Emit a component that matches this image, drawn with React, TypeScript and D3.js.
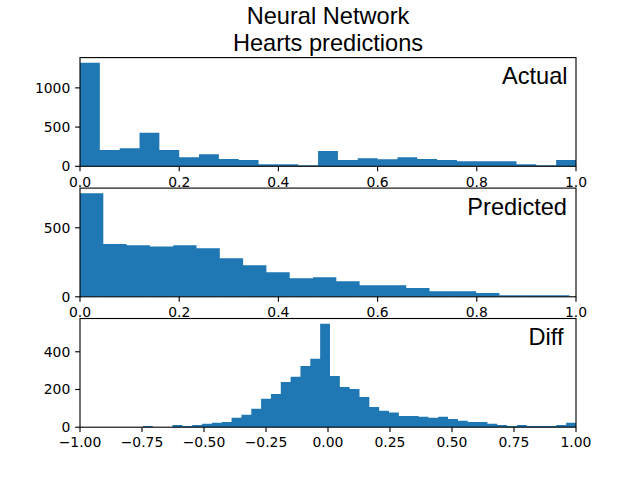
import React from "react";
import * as d3 from "d3";

// ---------- data ----------
const titleLines = ["Neural Network", "Hearts predictions"];

// Actual: 25 bins of width 0.04 starting at 0
const actualBinStart = 0;
const actualBinWidth = 0.04;
const actualCounts = [
  1320, 209, 230, 427, 209, 115, 154, 94, 81, 26, 26, 13, 196, 81, 102, 90,
  115, 94, 81, 64, 64, 64, 26, 13, 81,
];

// Predicted: 22 bins of width ~0.047 starting at 0 (last bin clipped at 1.0)
const predictedBinStart = 0;
const predictedBinWidth = 0.04698;
const predictedCounts = [
  750, 382, 373, 365, 373, 351, 279, 228, 178, 135, 142, 113, 84, 84, 63, 41,
  41, 27, 12, 12, 12, 3,
];

// Diff: 50 bins of width ~0.0397 starting at -0.984
const diffBinStart = -0.984;
const diffBinWidth = 0.03968;
const diffCounts = [
  0, 0, 0, 0, 0, 0, 7, 0, 0, 12, 7, 12, 18, 23, 28, 50, 66, 98, 151, 176, 240,
  267, 325, 363, 549, 272, 213, 203, 160, 107, 87, 78, 60, 60, 55, 50, 55, 44,
  34, 28, 28, 18, 12, 7, 12, 7, 7, 7, 12, 23,
];

const panelLabels = ["Actual", "Predicted", "Diff"];
const unitTicks = [0, 0.2, 0.4, 0.6, 0.8, 1.0];
const diffTicks = [-1, -0.75, -0.5, -0.25, 0, 0.25, 0.5, 0.75, 1.0];
const actualYTicks = [0, 500, 1000];
const predictedYTicks = [0, 500];
const diffYTicks = [0, 200, 400];

// ---------- layout ----------
const W = 640;
const H = 480;
const LEFT = 80;
const RIGHT = 576;
const AX_H = 108.7;
const TOPS = [57.6, 188.1, 318.5];
const BLUE = "#1f77b4";
const TICK_LEN = 4.86;
const LW = 1.11;
const TICK_FONT = "DejaVu Sans, sans-serif";
const TICK_SIZE = 13.9;
const LABEL_FONT = "Liberation Sans, Arial, Helvetica, sans-serif";
const LABEL_SIZE = 23.6;

type PanelProps = {
  idx: number;
  counts: number[];
  binStart: number;
  binWidth: number;
  xDomain: [number, number];
  xTicks: number[];
  xFmt: (v: number) => string;
  yTicks: number[];
  label: string;
  labelRight: number;
};

const minus = (s: string) => s.replace("-", "\u2212");

function Panel(p: PanelProps) {
  const top = TOPS[p.idx];
  const bottom = top + AX_H;
  const x = d3.scaleLinear().domain(p.xDomain).range([LEFT, RIGHT]);
  const maxC = d3.max(p.counts) || 1;
  const y = d3.scaleLinear().domain([0, maxC * 1.05]).range([bottom, top]);
  const clipId = `clip${p.idx}`;
  const path = d3.path();
  p.counts.forEach((c, i) => {
    if (c <= 0) return;
    const x0 = x(p.binStart + i * p.binWidth);
    const x1 = x(p.binStart + (i + 1) * p.binWidth);
    path.rect(x0, y(c), x1 - x0, y(0) - y(c));
  });
  return (
    <g>
      <defs>
        <clipPath id={clipId}>
          <rect x={LEFT} y={top} width={RIGHT - LEFT} height={AX_H} />
        </clipPath>
      </defs>
      <g clipPath={`url(#${clipId})`}>
        <path d={path.toString()} fill={BLUE} />
      </g>
      <rect
        x={LEFT}
        y={top}
        width={RIGHT - LEFT}
        height={AX_H}
        fill="none"
        stroke="#000"
        strokeWidth={LW}
      />
      {p.xTicks.map((t) => (
        <g key={"x" + t}>
          <line
            x1={x(t)}
            x2={x(t)}
            y1={bottom}
            y2={bottom + TICK_LEN}
            stroke="#000"
            strokeWidth={LW}
          />
          <text
            x={x(t)}
            y={bottom + 20.2}
            textAnchor="middle"
            fontFamily={TICK_FONT}
            fontSize={TICK_SIZE}
            fill="#000"
          >
            {p.xFmt(t)}
          </text>
        </g>
      ))}
      {p.yTicks.map((t) => (
        <g key={"y" + t}>
          <line
            x1={LEFT - TICK_LEN}
            x2={LEFT}
            y1={y(t)}
            y2={y(t)}
            stroke="#000"
            strokeWidth={LW}
          />
          <text
            x={LEFT - 2 * TICK_LEN}
            y={y(t) + 5}
            textAnchor="end"
            fontFamily={TICK_FONT}
            fontSize={TICK_SIZE}
            fill="#000"
          >
            {String(t)}
          </text>
        </g>
      ))}
      <text
        x={p.labelRight}
        y={top + 26.5}
        textAnchor="end"
        fontFamily={LABEL_FONT}
        fontSize={LABEL_SIZE}
        fill="#000"
      >
        {p.label}
      </text>
    </g>
  );
}

export default function App() {
  const fmt1 = d3.format(".1f");
  const fmt2 = (v: number) => minus(d3.format(".2f")(v));
  return (
    <svg
      width={W}
      height={H}
      viewBox={`0 0 ${W} ${H}`}
      style={{ position: "absolute", left: 0, top: 0, background: "#fff" }}
    >
      <rect x={0} y={0} width={W} height={H} fill="#fff" />
      {titleLines.map((t, i) => (
        <text
          key={t}
          x={(LEFT + RIGHT) / 2}
          y={24 + i * 26.5}
          textAnchor="middle"
          fontFamily={LABEL_FONT}
          fontSize={LABEL_SIZE}
          fill="#000"
        >
          {t}
        </text>
      ))}
      <Panel
        idx={0}
        counts={actualCounts}
        binStart={actualBinStart}
        binWidth={actualBinWidth}
        xDomain={[0, 1]}
        xTicks={unitTicks}
        xFmt={fmt1}
        yTicks={actualYTicks}
        label={panelLabels[0]}
        labelRight={567.5}
      />
      <Panel
        idx={1}
        counts={predictedCounts}
        binStart={predictedBinStart}
        binWidth={predictedBinWidth}
        xDomain={[0, 1]}
        xTicks={unitTicks}
        xFmt={fmt1}
        yTicks={predictedYTicks}
        label={panelLabels[1]}
        labelRight={567}
      />
      <Panel
        idx={2}
        counts={diffCounts}
        binStart={diffBinStart}
        binWidth={diffBinWidth}
        xDomain={[-1, 1]}
        xTicks={diffTicks}
        xFmt={fmt2}
        yTicks={diffYTicks}
        label={panelLabels[2]}
        labelRight={563.5}
      />
    </svg>
  );
}
